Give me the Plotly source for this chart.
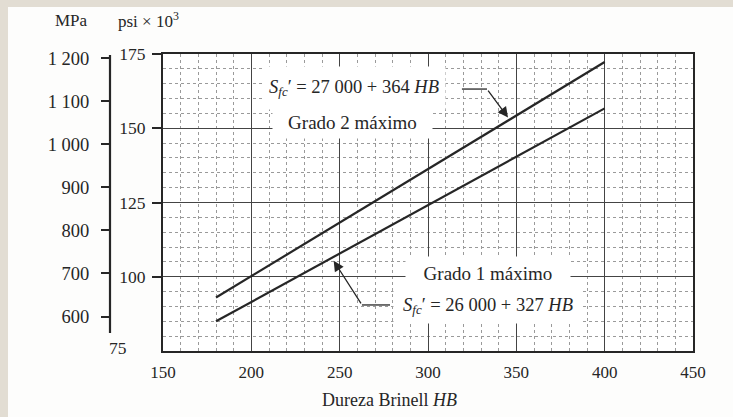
import plotly.graph_objects as go

# ---- data ----
hb_range = [180, 400]                 # Dureza Brinell HB, line extent
grade2_ksi = [93.0, 172.3]            # Sfc' = 27 000 + 364 HB  (psi x 10^3)
grade1_ksi = [85.0, 156.7]            # Sfc' = 26 000 + 327 HB  (psi x 10^3)

x_ticks = [150, 200, 250, 300, 350, 400, 450]
psi_ticks = [100, 125, 150, 175]
mpa_ticks = [600, 700, 800, 900, 1000, 1100, 1200]
mpa_labels = ["600", "700", "800", "900", "1\u00a0000", "1\u00a0100", "1\u00a0200"]

FONT = "Liberation Serif, Times New Roman, serif"
INK = "#262626"

# plot geometry in pixels
PL, PR, PT, PB = 163, 693, 54, 351
ML = 110                      # MPa axis position (left margin)
W = 733 - 40 - ML
H = PB - PT

def px(xp):
    return (xp - ML) / W

def py(yp):
    return (PB - yp) / H

fig = go.Figure()
fig.add_trace(go.Scatter(x=hb_range, y=grade2_ksi, mode="lines",
                         line=dict(color=INK, width=2.2), showlegend=False))
fig.add_trace(go.Scatter(x=hb_range, y=grade1_ksi, mode="lines",
                         line=dict(color=INK, width=2.2), showlegend=False))
# invisible trace to activate the MPa axis
fig.add_trace(go.Scatter(x=[None], y=[None], yaxis="y2", showlegend=False))

fig.update_layout(
    width=733, height=417,
    margin=dict(l=ML, r=40, t=PT, b=417 - PB),
    paper_bgcolor="#fdfdfc", plot_bgcolor="#ffffff",
    font=dict(family=FONT, size=17, color=INK),
    xaxis=dict(domain=[px(PL), 1], range=[150, 450], tickvals=x_ticks,
               showline=True, mirror=True, linecolor=INK, linewidth=2, ticks="",
               ticklabelstandoff=5, showgrid=True, gridcolor="#444", gridwidth=1.2,
               zeroline=False,
               minor=dict(tick0=150, dtick=10, showgrid=True, gridcolor="#9a9a9a",
                          griddash="dot", gridwidth=1),
               tickfont=dict(size=17)),
    yaxis=dict(range=[75, 175], tickvals=psi_ticks, showline=True, mirror=True,
               linecolor=INK, linewidth=2, ticks="outside", ticklen=9, tickwidth=2,
               tickcolor=INK, showgrid=True, gridcolor="#444", gridwidth=1.2,
               zeroline=False, ticklabelstandoff=3,
               minor=dict(tick0=75, dtick=5, showgrid=True, gridcolor="#9a9a9a",
                          griddash="dot", gridwidth=1),
               tickfont=dict(size=17.5)),
    yaxis2=dict(range=[520, 1209.5], overlaying="y", side="left", anchor="free",
                position=0, tickvals=mpa_ticks, ticktext=mpa_labels,
                ticks="outside", ticklen=9, tickwidth=2, tickcolor=INK,
                showline=False, showgrid=False, zeroline=False,
                ticklabelstandoff=8, tickfont=dict(size=18.5)),
)

# MPa axis line (shortened as in the reference)
fig.add_shape(type="line", xref="paper", yref="paper", x0=0, x1=0,
              y0=py(333), y1=py(55), line=dict(color=INK, width=2.2))

# beige page edges of the scan
fig.add_shape(type="rect", xref="paper", yref="paper",
              x0=px(0), x1=px(8), y0=py(417), y1=py(0),
              fillcolor="#e2ddd3", line=dict(width=0), layer="below")
fig.add_shape(type="rect", xref="paper", yref="paper",
              x0=px(0), x1=px(733), y0=py(7), y1=py(0),
              fillcolor="#e2ddd3", line=dict(width=0), layer="below")

# arrow leader lines (horizontal parts)
fig.add_shape(type="line", xref="x", yref="y", x0=319.2, x1=333.4, y0=163.2, y1=163.2,
              line=dict(color=INK, width=1.3))
fig.add_shape(type="line", xref="x", yref="y", x0=278.5, x1=262.6, y0=90.5, y1=90.5,
              line=dict(color=INK, width=1.3))

ann = []
def box(text, x, y, w, h, size):
    ann.append(dict(x=x, y=y, xref="x", yref="y", text=text, showarrow=False,
                    xanchor="center", yanchor="middle",
                    bgcolor="#ffffff", width=w, height=h, align="center",
                    font=dict(family=FONT, size=size, color=INK)))

box("<i>S<sub>fc</sub></i>\u2032 = 27 000 + 364 <i>HB</i>", 258.1, 163.6, 180, 40, 18.5)
box("Grado 2 máximo", 257.5, 152.1, 157, 30, 19)
box("Grado 1 máximo", 334.0, 101.3, 162, 30, 19)
box("<i>S<sub>fc</sub></i>\u2032 = 26 000 + 327 <i>HB</i>", 334.0, 90.2, 186, 32, 18.5)

# arrowheads (diagonal parts)
ann.append(dict(x=345.3, y=153.6, ax=333.4, ay=163.2, xref="x", yref="y",
                axref="x", ayref="y", text="", showarrow=True, arrowhead=2,
                arrowsize=1.6, arrowwidth=1.3, arrowcolor=INK))
ann.append(dict(x=246.6, y=105.4, ax=262.6, ay=90.5, xref="x", yref="y",
                axref="x", ayref="y", text="", showarrow=True, arrowhead=2,
                arrowsize=1.6, arrowwidth=1.3, arrowcolor=INK))

def label(text, xp, yp, size=17):
    ann.append(dict(xref="paper", yref="paper", x=px(xp), y=py(yp), text=text,
                    showarrow=False, xanchor="center", yanchor="middle",
                    font=dict(family=FONT, size=size, color=INK)))

label("MPa", 71, 21)
label("psi × 10<sup>3</sup>", 148, 20)
label("75", 118, 348, 17.5)
label("Dureza Brinell <i>HB</i>", 389, 400, 18)
fig.update_layout(annotations=ann)

fig.write_html("out.html")
